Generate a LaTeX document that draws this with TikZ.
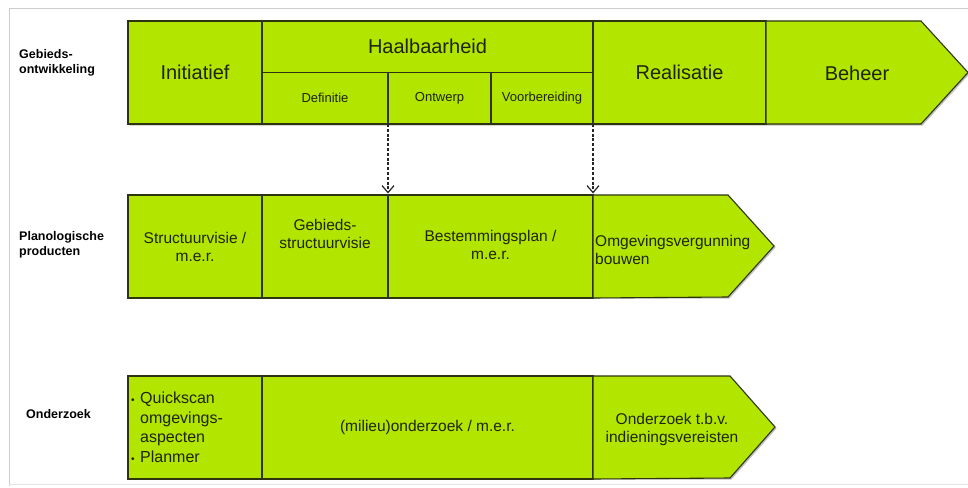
\documentclass[tikz,border=0pt]{standalone}
\usepackage{fontspec}
\setmainfont{Liberation Sans}
\usetikzlibrary{positioning, arrows.meta}
\definecolor{phase}{RGB}{178,230,0}
\definecolor{rim}{RGB}{45,52,15}
\definecolor{ink}{RGB}{30,36,5}

\begin{document}
\begin{tikzpicture}[x=1pt, y=-1pt,
	cell/.style={draw=rim, fill=phase, line width=1.1pt, anchor=north west, outer sep=0pt, inner sep=2pt, text=ink, align=center},
	chev/.style={draw=rim, fill=phase, line width=1.1pt, line join=miter},
	tall/.style={minimum height=103},
	half/.style={minimum height=51.5},
	big/.style={font=\fontsize{20}{24}\selectfont},
	mid/.style={font=\fontsize{15.5}{18}\selectfont},
	small/.style={font=\fontsize{13}{15}\selectfont},
	side/.style={font=\bfseries\fontsize{12.5}{15}\selectfont, align=left, anchor=west, inner sep=0pt},
	dep/.style={-{Straight Barb[length=7pt, width=12pt, line width=1.2pt]}, dash pattern=on 3pt off 1.8pt, line width=1.7pt, draw=black!85, shorten >=1.5pt}]
	\useasboundingbox (0,0) rectangle (968,487);
	\draw[gray!40] (9,486) -- (9,8) -- (968,8);
	\draw[gray!20] (9,484) -- (968,484);
	
	\begin{scope}[shift={(1.5,1.5)}, black!25]
		\fill (128,21) -- (921,21) -- (968,72.5) -- (921,124) -- (128,124) -- cycle;
		\fill (128,195) -- (728,195) -- (774,246) -- (728,297) -- (128,297) -- cycle;
		\fill (128,376) -- (730,376) -- (775,427) -- (730,478) -- (128,478) -- cycle;
	\end{scope}
	
	\node[side] (lgeb) at (19,63) {Gebieds-\\ontwikkeling};
	\node[side] (lplan) at (19,245) {Planologische\\producten};
	\node[side] (lond) at (26,414) {Onderzoek};
	
	\node[cell, tall, big, minimum width=134] (init) at (128,21) {Initiatief};
	\node[cell, half, big, minimum width=331] (haal) at (init.north east) {Haalbaarheid};
	\node[cell, half, small, minimum width=126] (defi) at (haal.south west) {Definitie};
	\node[cell, half, small, minimum width=103] (ontw) at (defi.north east) {Ontwerp};
	\node[cell, half, small, minimum width=102] (voorb) at (ontw.north east) {Voorbereiding};
	\node[cell, tall, big, minimum width=173] (real) at (haal.north east) {Realisatie};
	\draw[chev] (real.north east) -- ++(155,0) -- ++(47,51.5) -- ++(-47,51.5) -- (real.south east) -- cycle;
	\node[big, text=ink] (beh) at (857,73) {Beheer};
	
	\node[cell, tall, mid, minimum width=134] (svis) at (128,195) {Structuurvisie /\\m.e.r.};
	\node[cell, tall, mid, minimum width=126] (gsvis) at (svis.north east) {Gebieds-\\structuurvisie\\[8pt]};
	\node[cell, tall, mid, minimum width=205] (bplan) at (gsvis.north east) {\\[-10pt]Bestemmingsplan /\\m.e.r.};
	\draw[chev] (bplan.north east) -- ++(135,0) -- ++(46,51) -- ++(-46,51) -- (bplan.south east) -- cycle;
	\node[mid, text=ink, align=left, anchor=west, inner sep=0pt] (omgv) at (595,250) {Omgevingsvergunning\\bouwen};
	
	\node[cell, tall, minimum width=134] (qscan) at (128,376) {};
	\node[font=\fontsize{16}{19.5}\selectfont, text=ink, align=left, anchor=west, inner sep=0pt] (qtxt) at ([xshift=3pt]qscan.west)
		{\makebox[9pt][l]{\fontsize{10}{10}\selectfont\textbullet}Quickscan\\\hspace*{9pt}omgevings-\\\hspace*{9pt}aspecten\\\makebox[9pt][l]{\fontsize{10}{10}\selectfont\textbullet}Planmer};
	\node[cell, tall, mid, minimum width=331] (milieu) at (qscan.north east) {(milieu)onderzoek / m.e.r.};
	\draw[chev] (milieu.north east) -- ++(137,0) -- ++(45,51) -- ++(-45,51) -- (milieu.south east) -- cycle;
	\node[mid, text=ink, align=center] (indien) at (672,429) {Onderzoek t.b.v.\\indieningsvereisten};
	
	\draw[dep] (defi.south east) -- (bplan.north west);
	\draw[dep] (voorb.south east) -- (bplan.north east);
	
\end{tikzpicture}
\end{document}
